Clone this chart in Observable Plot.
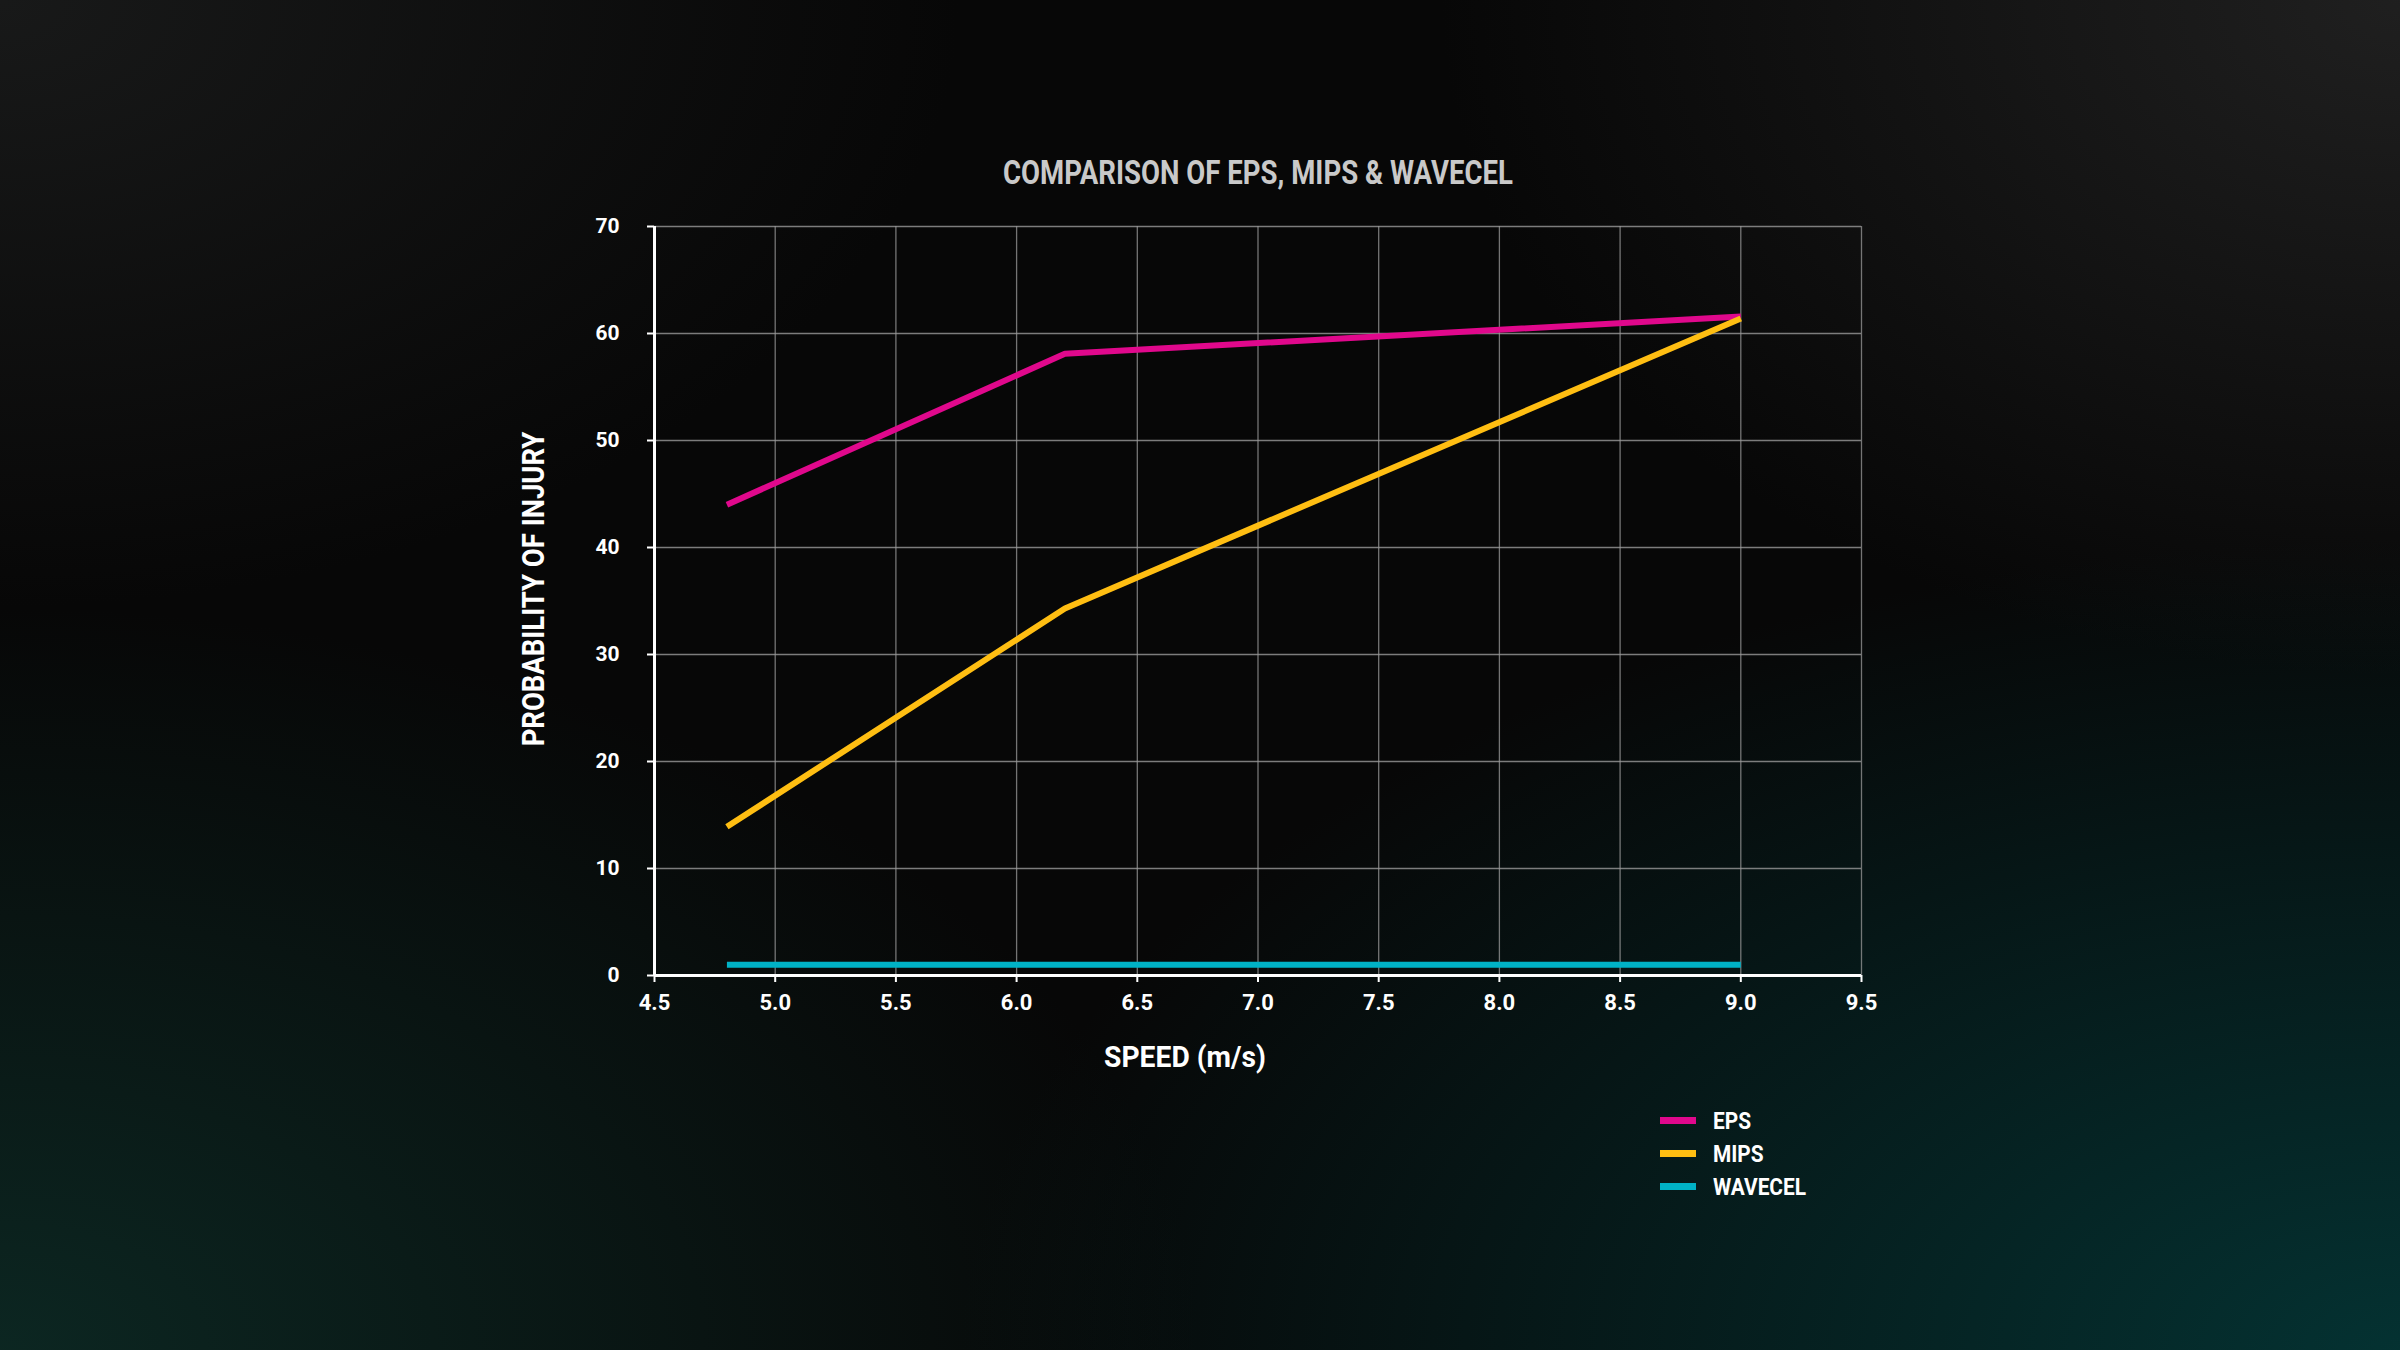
<!DOCTYPE html>
<html>
<head>
<meta charset="utf-8">
<script src="https://cdn.jsdelivr.net/npm/d3@7"></script>
<script src="https://cdn.jsdelivr.net/npm/@observablehq/plot@0.6"></script>
<style>
  html, body { margin: 0; padding: 0; }
  body {
    width: 2400px; height: 1350px; overflow: hidden; position: relative;
    background:
      radial-gradient(ellipse 60% 60% at 100% 100%, rgba(4,52,52,0.95), rgba(4,52,52,0) 100%),
      radial-gradient(ellipse 50% 55% at 0% 100%, rgba(12,40,35,0.95), rgba(12,40,35,0) 100%),
      radial-gradient(ellipse 40% 45% at 0% 0%, rgba(26,27,27,0.9), rgba(26,27,27,0) 100%),
      radial-gradient(ellipse 40% 50% at 100% 0%, rgba(34,34,34,0.9), rgba(34,34,34,0) 100%),
      #070707;
    font-family: Roboto, "DejaVu Sans Condensed", sans-serif;
    font-weight: bold;
  }
  #chart { position: absolute; left: 0; top: 0; }
  #title {
    position: absolute; left: 1258px; top: 172px; transform-origin: center center;
    color: #c9c9c9; font-size: 34px; white-space: nowrap; line-height: 1;
  }
  #legend { position: absolute; left: 1660px; top: 1104px; }
  .item { display: flex; align-items: center; height: 33px; }
  .sw { width: 36px; height: 7px; margin-right: 17px; }
  .lab { color: #fff; font-size: 24px; line-height: 1; transform-origin: left center; white-space: nowrap; }
</style>
</head>
<body>
<div id="title"></div>
<div id="chart"></div>
<div id="legend"></div>
<script>
const titleText = "COMPARISON OF EPS, MIPS & WAVECEL";
const xLabel = "SPEED (m/s)";
const yLabel = "PROBABILITY OF INJURY";

const seriesNames = ["EPS", "MIPS", "WAVECEL"];
const seriesColors = ["#e0088c", "#ffbe12", "#00b2c6"];

const speeds = [4.8, 6.2, 9.0];
const epsValues = [44.0, 58.1, 61.6];
const mipsValues = [13.9, 34.3, 61.4];
const wavecelValues = [1.0, 1.0, 1.0];

const xTicks = [4.5, 5.0, 5.5, 6.0, 6.5, 7.0, 7.5, 8.0, 8.5, 9.0, 9.5];
const yTicks = [0, 10, 20, 30, 40, 50, 60, 70];

const valuesBySeries = [epsValues, mipsValues, wavecelValues];
const data = seriesNames.flatMap((name, i) =>
  speeds.map((s, j) => ({series: name, speed: s, value: valuesBySeries[i][j]}))
);

const font = 'Roboto, "DejaVu Sans Condensed", sans-serif';

const chart = Plot.plot({
  width: 2400,
  height: 1350,
  marginLeft: 654,
  marginRight: 539,
  marginTop: 226,
  marginBottom: 375,
  style: {background: "transparent", color: "white", fontFamily: font, fontWeight: "bold", overflow: "visible"},
  x: {domain: [4.5, 9.5]},
  y: {domain: [0, 70]},
  color: {domain: seriesNames, range: seriesColors},
  marks: [
    Plot.gridX(xTicks, {stroke: "#9a9a9a", strokeOpacity: 0.75, strokeWidth: 1.3}),
    Plot.gridY(yTicks, {stroke: "#9a9a9a", strokeOpacity: 0.8, strokeWidth: 1.6}),
    Plot.axisX({ticks: xTicks, tickFormat: d3.format(".1f"), tickSize: 7, tickPadding: 12, fontSize: 22, fontWeight: "bold", label: null, strokeWidth: 2}),
    Plot.axisY({ticks: yTicks, tickSize: 7, tickPadding: 28, fontSize: 21, fontWeight: "bold", label: null, strokeWidth: 2}),
    Plot.ruleX([4.5], {stroke: "white", strokeWidth: 3}),
    Plot.ruleY([0], {stroke: "white", strokeWidth: 3}),
    Plot.line(data, {x: "speed", y: "value", z: "series", stroke: "series", strokeWidth: 6, strokeLinecap: "butt", strokeLinejoin: "miter"}),
    Plot.text([xLabel], {frameAnchor: "bottom", dx: -73, dy: 82, lineAnchor: "middle", textAnchor: "middle", fontSize: 29, fontWeight: "bold", fill: "white"}),
    Plot.text([yLabel], {frameAnchor: "left", rotate: -90, dx: -121, dy: -12, lineAnchor: "middle", textAnchor: "middle", fontSize: 32, fontWeight: "bold", fill: "white"})
  ]
});
document.getElementById("chart").appendChild(chart);

// condense some text horizontally to match the condensed typeface of the original
function condenseSvgText(label, targetWidth) {
  chart.querySelectorAll("text").forEach(t => {
    if (t.textContent !== label) return;
    const w = t.getComputedTextLength();
    if (!w) return;
    const s = targetWidth / w;
    const tr = t.getAttribute("transform") || "";
    t.setAttribute("transform", (tr + ` scale(${s.toFixed(3)},1)`).trim());
  });
}
condenseSvgText(xLabel, 162);
condenseSvgText(yLabel, 315);

const title = document.getElementById("title");
title.textContent = titleText;
const tw = title.getBoundingClientRect().width;
title.style.transform = `translate(-50%, -50%) scaleX(${(510 / tw).toFixed(3)})`;

const legend = document.getElementById("legend");
const labs = [];
seriesNames.forEach((name, i) => {
  const item = document.createElement("div");
  item.className = "item";
  const sw = document.createElement("div");
  sw.className = "sw";
  sw.style.background = seriesColors[i];
  const lab = document.createElement("div");
  lab.className = "lab";
  lab.textContent = name;
  item.appendChild(sw);
  item.appendChild(lab);
  legend.appendChild(item);
  labs.push(lab);
});
const ww = labs[2].getBoundingClientRect().width;
const ls = (93 / ww).toFixed(3);
labs.forEach(l => l.style.transform = `scaleX(${ls})`);
</script>
</body>
</html>
